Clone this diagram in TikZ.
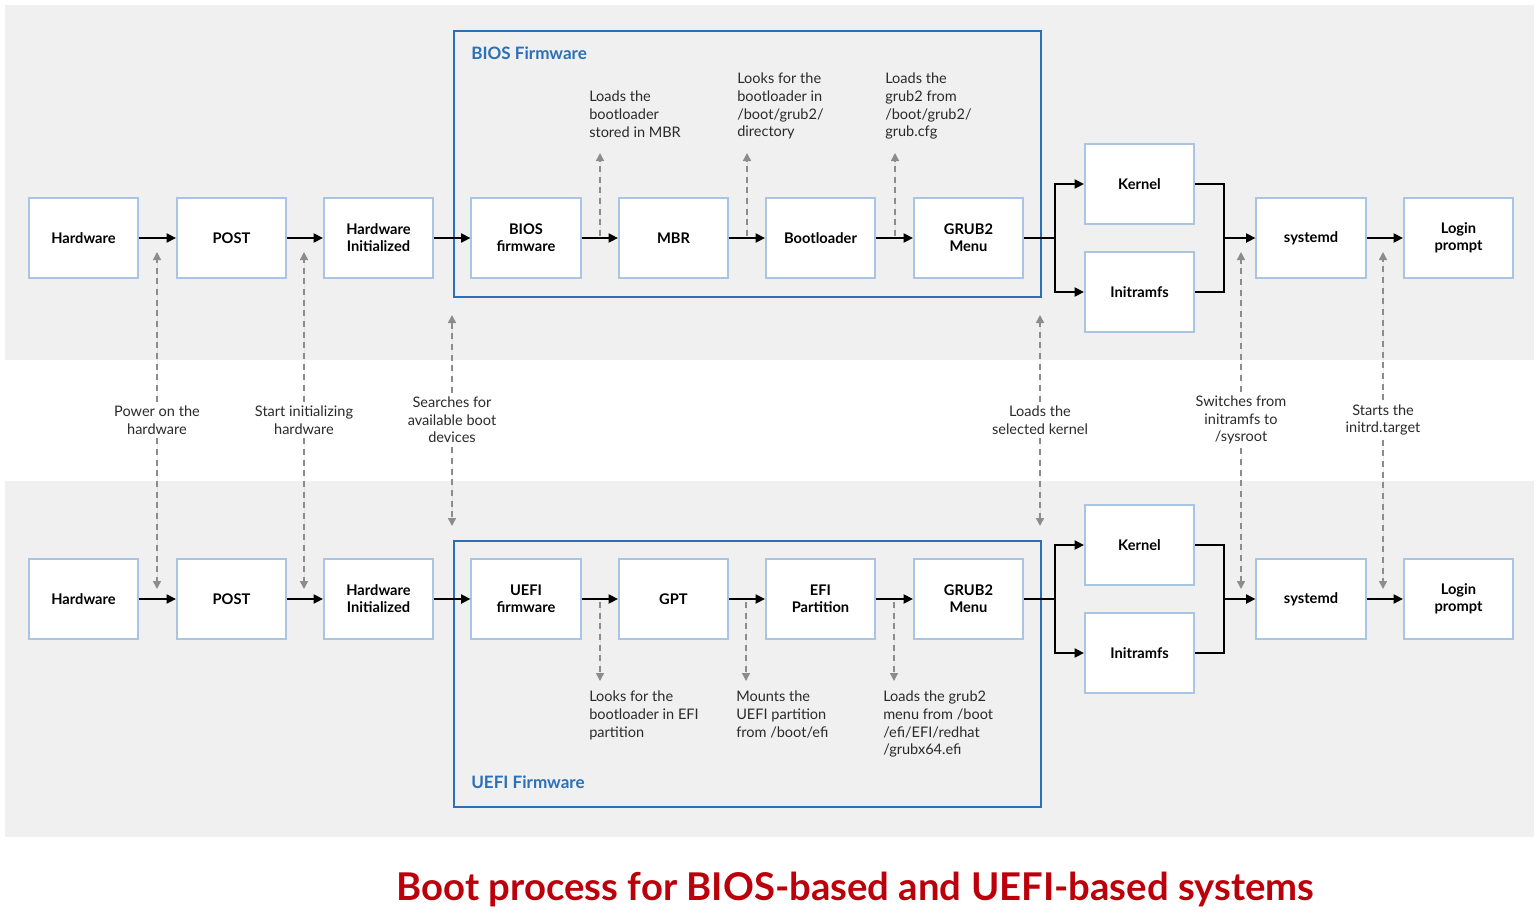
\documentclass[tikz,border=0pt]{standalone}
\usepackage{fontspec}
\setmainfont{Lato}
\usetikzlibrary{arrows.meta}
\definecolor{bandgray}{HTML}{F0F0F0}
\definecolor{boxblue}{HTML}{A9C5E2}
\definecolor{frameblue}{HTML}{2B6FB6}
\definecolor{dashgray}{HTML}{8C8C8C}
\definecolor{txtgray}{HTML}{2A2A2A}
\definecolor{titlered}{HTML}{BC000B}
\begin{document}
\begin{tikzpicture}[x=0.75pt,y=-0.75pt,
 box/.style={draw=boxblue, line width=1.3pt, fill=white, minimum width=82.2pt, minimum height=60.5pt, inner sep=0pt, align=center, font=\fontsize{11}{12.75}\selectfont\bfseries, text=black},
 flow/.style={line width=1.1pt, -{Triangle[length=7pt,width=7pt]}},
 conn/.style={line width=1.1pt},
 darr/.style={draw=dashgray, line width=1.1pt, dash pattern=on 4.5pt off 3.5pt, -{Triangle[length=6pt,width=6pt]}, fill=dashgray},
 lbl/.style={align=center, font=\fontsize{10.9}{13.2}\selectfont, text=txtgray, inner sep=3pt},
 lbll/.style={align=left, font=\fontsize{10.9}{13.2}\selectfont, text=txtgray, inner sep=0pt, anchor=north west},
 frame/.style={draw=frameblue, line width=1.5pt},
 ftitle/.style={text=frameblue, font=\fontsize{12.8}{14}\selectfont\bfseries, anchor=west, inner sep=0pt}]
\useasboundingbox (0,0) rectangle (1539,921);
\fill[white] (0,0) rectangle (1539,921);
% bands
\fill[bandgray] (5,5) rectangle (1534,360);
\fill[bandgray] (5,481) rectangle (1534,837);
% frames
\draw[frame] (454,31) rectangle (1041,297);
\draw[frame] (454,541) rectangle (1041,807);
\node[ftitle] (ft1) at (471,53) {BIOS Firmware};
\node[ftitle] (ft2) at (471,782) {UEFI Firmware};

% ---------- top row ----------
\node[box] (hw1) at (83.5,238) {Hardware};
\node[box] (post1) at (231.5,238) {POST};
\node[box] (hi1) at (378.5,238) {Hardware\\Initialized};
\node[box] (bios) at (526,238) {BIOS\\firmware};
\node[box] (mbr) at (673.5,238) {MBR};
\node[box] (boot) at (820.5,238) {Bootloader};
\node[box] (grub1) at (968.5,238) {GRUB2\\Menu};
\node[box] (kern1) at (1139.5,184) {Kernel};
\node[box] (init1) at (1139.5,292) {Initramfs};
\node[box] (sysd1) at (1311,238) {systemd};
\node[box] (login1) at (1458.5,238) {Login\\prompt};

\draw[flow] (hw1) -- (post1);
\draw[flow] (post1) -- (hi1);
\draw[flow] (hi1) -- (bios);
\draw[flow] (bios) -- (mbr);
\draw[flow] (mbr) -- (boot);
\draw[flow] (boot) -- (grub1);
\coordinate (j1) at (1055,238);
\coordinate (m1) at (1224,238);
\draw[conn] (grub1.east) -- (j1);
\draw[flow] (j1) |- (kern1.west);
\draw[flow] (j1) |- (init1.west);
\draw[conn] (kern1.east) -| (m1) |- (init1.east);
\draw[flow] (m1) -- (sysd1.west);
\draw[flow] (sysd1) -- (login1);

% ---------- bottom row ----------
\node[box] (hw2) at (83.5,599) {Hardware};
\node[box] (post2) at (231.5,599) {POST};
\node[box] (hi2) at (378.5,599) {Hardware\\Initialized};
\node[box] (uefi) at (526,599) {UEFI\\firmware};
\node[box] (gpt) at (673.5,599) {GPT};
\node[box] (efi) at (820.5,599) {EFI\\Partition};
\node[box] (grub2) at (968.5,599) {GRUB2\\Menu};
\node[box] (kern2) at (1139.5,545) {Kernel};
\node[box] (init2) at (1139.5,653) {Initramfs};
\node[box] (sysd2) at (1311,599) {systemd};
\node[box] (login2) at (1458.5,599) {Login\\prompt};

\draw[flow] (hw2) -- (post2);
\draw[flow] (post2) -- (hi2);
\draw[flow] (hi2) -- (uefi);
\draw[flow] (uefi) -- (gpt);
\draw[flow] (gpt) -- (efi);
\draw[flow] (efi) -- (grub2);
\coordinate (j2) at (1055,599);
\coordinate (m2) at (1224,599);
\draw[conn] (grub2.east) -- (j2);
\draw[flow] (j2) |- (kern2.west);
\draw[flow] (j2) |- (init2.west);
\draw[conn] (kern2.east) -| (m2) |- (init2.east);
\draw[flow] (m2) -- (sysd2.west);
\draw[flow] (sysd2) -- (login2);

% ---------- BIOS frame notes ----------
\node[lbll] (n1) at (589,91) {Loads the\\bootloader\\stored in MBR};
\node[lbll] (n2) at (737,73) {Looks for the\\bootloader in\\/boot/grub2/\\directory};
\node[lbll] (n3) at (885,73) {Loads the\\grub2 from\\/boot/grub2/\\grub.cfg};
\coordinate (s1) at (600,236); \coordinate (e1) at (600,153);
\coordinate (s2) at (747,236); \coordinate (e2) at (747,153);
\coordinate (s3) at (895,236); \coordinate (e3) at (895,153);
\draw[darr] (s1) -- (e1);
\draw[darr] (s2) -- (e2);
\draw[darr] (s3) -- (e3);

% ---------- UEFI frame notes ----------
\node[lbll] (n4) at (589,691) {Looks for the\\bootloader in EFI\\partition};
\node[lbll] (n5) at (736,691) {Mounts the\\UEFI partition\\from /boot/efi};
\node[lbll] (n6) at (883,691) {Loads the grub2\\menu from /boot\\/efi/EFI/redhat\\/grubx64.efi};
\coordinate (s4) at (600,602); \coordinate (e4) at (600,681);
\coordinate (s5) at (746,602); \coordinate (e5) at (746,681);
\coordinate (s6) at (894,602); \coordinate (e6) at (894,681);
\draw[darr] (s4) -- (e4);
\draw[darr] (s5) -- (e5);
\draw[darr] (s6) -- (e6);

% ---------- shared steps ----------
\node[lbl] (c1) at (157,420) {Power on the\\hardware};
\node[lbl] (c2) at (304,420) {Start initializing\\hardware};
\node[lbl] (c3) at (452,420) {Searches for\\available boot\\devices};
\node[lbl] (c4) at (1040,420) {Loads the\\selected kernel};
\node[lbl] (c5) at (1241,420) {Switches from\\initramfs to\\/sysroot};
\node[lbl] (c6) at (1383,420) {Starts the\\initrd.target};
\coordinate (u1) at (157,252); \coordinate (d1) at (157,589);
\coordinate (u2) at (304,252); \coordinate (d2) at (304,589);
\coordinate (u3) at (452,315); \coordinate (d3) at (452,526);
\coordinate (u4) at (1040,315); \coordinate (d4) at (1040,526);
\coordinate (u5) at (1241,252); \coordinate (d5) at (1241,589);
\coordinate (u6) at (1383,252); \coordinate (d6) at (1383,589);
\foreach \i in {1,...,6}{
  \draw[darr] (c\i.north) -- (u\i);
  \draw[darr] (c\i.south) -- (d\i);
}

% ---------- title ----------
\node[font=\fontsize{28.7}{32}\selectfont\bfseries, text=titlered, inner sep=0pt] (title) at (855.5,889) {Boot process for BIOS-based and UEFI-based systems};
\end{tikzpicture}
\end{document}
